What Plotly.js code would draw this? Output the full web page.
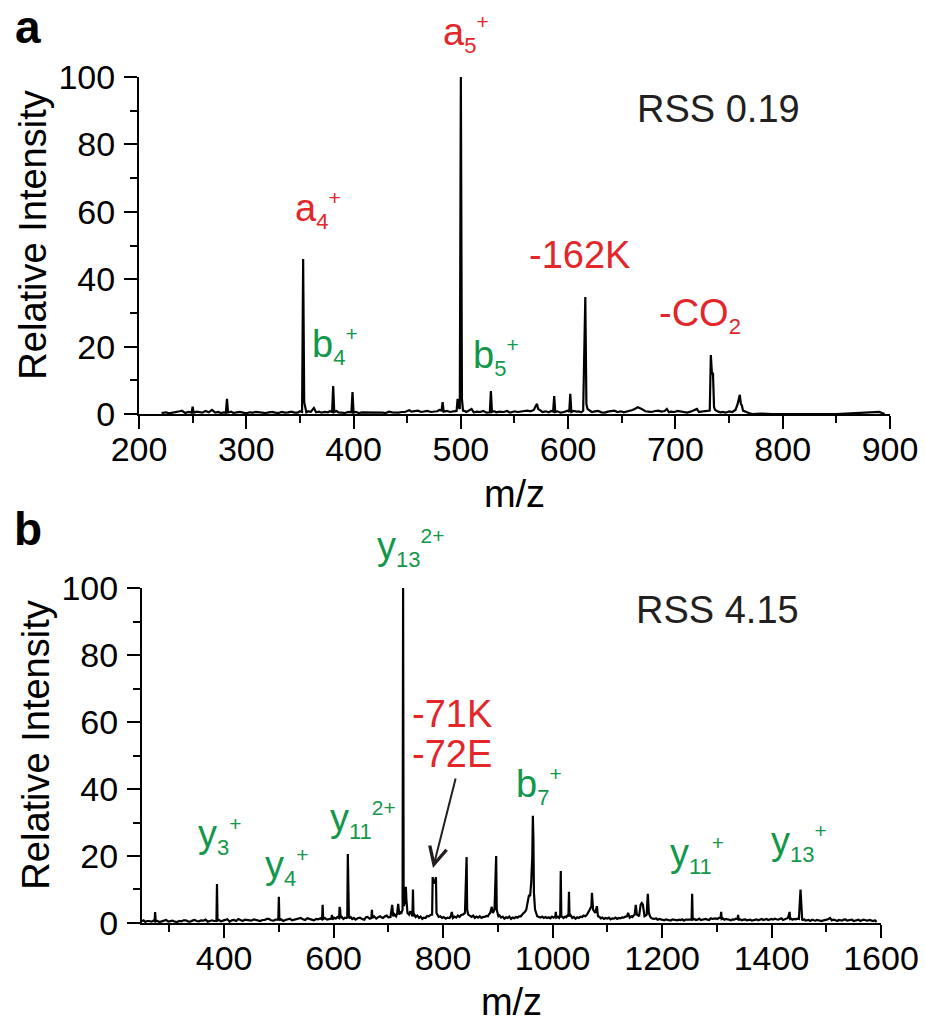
<!DOCTYPE html>
<html><head><meta charset="utf-8">
<script src="https://cdn.plot.ly/plotly-3.0.1.min.js"></script>
<style>html,body{margin:0;padding:0;background:#fff}</style>
</head><body>
<div id="chart" style="width:925px;height:1023px"></div>
<script>
// ---- Panel a spectrum (m/z, relative intensity) ----
const mzA = [221,225,228,232,235,238,240,243,246,249,250,251,254,256,259,262,265,268,271,274,276,279,281,282,283,286,288,291,294,297,300,303,306,309,312,315,318,321,324,327,330,333,336,339,342,345,348,350,352,353,354,355,356,358,360,363,365,368,370,373,376,378,380,381,382,384,386,389,392,395,398,399,400,402,405,408,412,415,418,421,424,427,430,433,436,439,442,445,448,450,452,454,456,458,460,463,466,469,472,475,478,480,482,483,484,487,490,493,496,497,498,499,500,501,502,504,505,508,510,512,515,518,521,524,527,528,529,531,533,536,540,543,546,548,550,553,556,559,562,565,568,570,571,572,574,576,579,582,584,586,587,588,590,593,596,598,600,601,602,603,605,608,610,612,614,616,617,618,620,622,625,628,631,634,637,640,643,646,649,652,655,658,660,662,665,668,670,672,675,678,681,684,687,690,692,693,694,696,699,702,705,708,711,714,716,718,720,721,722,724,727,730,732,733,734,735,736,737,738,740,742,744,747,750,753,756,758,760,761,762,763,765,767,770,772,780,790,800,850,890,893,895,898];
const intA = [0.3,0.5,0.2,0.4,0.5,0.8,1.0,0.3,0.6,0.4,2.2,0.4,0.7,0.6,0.4,0.9,0.5,1.2,0.4,0.6,0.3,0.5,0.4,4.5,0.5,0.7,0.3,0.5,0.6,0.4,0.2,0.5,0.4,0.6,0.5,0.3,0.3,0.5,0.6,0.4,0.3,0.6,0.4,0.5,0.7,0.4,0.4,0.8,0.6,46,3.5,2,0.5,0.8,0.6,1.8,0.5,0.7,0.4,0.6,0.5,0.8,0.6,8.3,0.6,0.9,0.5,0.4,0.3,0.6,0.5,6.5,0.4,0.6,0.3,0.5,0.5,0.4,0.4,0.6,0.6,0.4,0.3,0.7,0.5,0.4,0.4,0.6,0.6,0.9,1.1,0.7,0.8,1.1,1.0,0.6,0.7,0.9,0.6,0.8,0.8,1.2,1.0,3.5,0.7,0.9,0.6,0.8,0.9,4.5,2,1.5,100,4.5,1,0.8,0.6,1.1,1.5,0.5,0.7,0.6,0.9,0.4,0.5,6.8,0.6,0.8,0.5,0.7,0.6,0.9,0.4,0.6,0.8,0.6,0.7,1.0,1,0.8,1.2,2.5,3,1.5,0.9,0.6,0.8,0.5,0.9,0.7,5.3,0.6,0.8,0.4,0.6,0.8,1.0,0.6,6,0.6,0.9,0.7,0.8,0.5,0.9,34.7,3,1.5,0.9,0.6,0.8,0.9,0.5,0.4,0.7,0.8,1.0,0.6,0.8,0.5,0.7,0.9,1.2,1.5,2,1.6,1.2,0.8,0.7,0.6,0.9,1.0,0.7,0.9,1.5,0.8,0.5,0.7,0.6,0.9,0.8,0.6,0.4,0.7,0.9,1.2,1.5,1.0,0.6,0.7,0.8,1.0,1,17.5,12,12,2,1.2,1,0.7,0.5,0.6,0.4,0.8,0.6,1.2,3,5.7,3,2.5,1,0.7,0.5,0.1,0,0.1,0,0,0,0.6,0.2,0];

// ---- Panel b spectrum ----
const mzB = [250,253,256,259,262,265,268,271,273,274,275,278,282,286,290,294,298,302,306,310,314,318,322,326,330,334,338,342,346,350,354,358,362,366,370,374,378,381,384,386,387,388,391,394,398,402,406,410,414,418,422,426,430,434,438,442,446,450,454,458,462,466,470,474,478,482,486,490,494,498,499,500,501,504,508,512,516,520,524,528,532,536,540,544,548,552,556,560,564,568,572,576,579,580,581,584,588,592,596,597,598,601,604,607,610,611,612,613,615,618,621,624,625,626,627,628,631,634,637,640,644,648,652,656,659,662,666,669,670,671,674,678,682,685,688,690,694,697,700,704,707,709,711,714,716,718,720,722,724,726,727,728,730,732,733,735,738,740,742,744,745,746,748,750,753,756,759,762,765,768,771,774,777,780,781,783,785,787,788,790,792,795,798,801,805,808,812,814,816,818,821,824,827,830,833,836,838,840,843,844,846,849,852,855,858,861,864,867,870,873,876,879,882,884,886,889,891,894,897,898,901,903,906,909,912,915,918,921,924,927,930,933,936,939,942,945,948,950,952,955,957,959,961,963,964,965,966,968,970,972,975,978,981,984,987,990,993,996,999,1002,1005,1006,1007,1010,1012,1014,1015,1016,1018,1020,1023,1025,1027,1029,1030,1031,1033,1036,1039,1042,1045,1048,1051,1054,1057,1060,1063,1065,1068,1071,1072,1074,1076,1078,1081,1083,1086,1088,1091,1094,1097,1100,1103,1106,1109,1112,1115,1118,1121,1124,1127,1130,1133,1136,1138,1141,1144,1146,1148,1150,1152,1154,1156,1158,1161,1163,1165,1168,1170,1172,1174,1176,1178,1180,1183,1186,1189,1192,1195,1198,1201,1204,1207,1210,1213,1216,1219,1222,1225,1228,1231,1234,1237,1240,1243,1246,1249,1252,1254,1255,1256,1259,1262,1265,1268,1271,1274,1277,1280,1283,1286,1289,1292,1295,1298,1301,1304,1307,1308,1309,1311,1314,1317,1320,1323,1326,1329,1332,1335,1338,1339,1340,1343,1346,1349,1352,1355,1358,1361,1364,1367,1370,1373,1376,1379,1382,1385,1388,1391,1394,1397,1400,1403,1406,1409,1412,1415,1418,1421,1424,1427,1430,1433,1434,1436,1438,1441,1444,1447,1450,1453,1455,1456,1457,1460,1462,1465,1468,1471,1474,1477,1480,1483,1486,1489,1492,1495,1498,1501,1504,1507,1510,1513,1516,1518,1520,1523,1526,1529,1532,1535,1538,1541,1544,1547,1550,1553,1556,1559,1562,1565,1568,1571,1574,1577,1580,1583,1586,1589,1592,1595,1598,1600];
const intB = [0.5,0.8,0.3,0.6,0.6,0.4,0.4,0.7,0.5,3.3,0.5,0.6,0.3,0.5,0.6,0.9,0.4,0.6,0.7,0.4,0.3,0.6,0.5,0.8,0.8,0.5,0.4,0.7,0.9,0.6,0.5,0.8,0.7,1.0,0.4,0.6,0.8,0.6,0.5,0.6,11.6,0.7,0.9,0.5,0.7,0.8,1.1,0.4,0.8,0.9,0.6,1.2,0.9,0.6,1.0,0.9,0.7,0.7,1.1,1.0,0.8,0.6,0.9,0.9,1.2,1.2,0.8,0.7,1.0,1.0,1.0,7.8,0.8,1.1,0.6,0.9,1.1,1.3,0.8,1.0,1.0,1.2,1.5,1.1,0.9,1.4,1.3,1.0,0.8,1.2,1.1,1.4,1,5.4,1.2,1.5,1,1.2,1.3,2.4,1,1.6,1.3,1.8,1.5,4.8,4,1.5,1.8,1.2,1.6,1.5,1.4,20.6,2,1.5,1.8,1.2,1.5,1.0,1.4,1.6,1.2,1.0,1.7,1.8,1.3,1.5,3.9,1.5,2.0,1.3,1.8,2,1.6,1.5,2.0,2.2,1.7,1.8,5.4,2,2.6,2,2.8,5.7,2.5,3.2,3,4,100,5,6,10.8,7,3,2.5,3.5,3,2,10,2,2.4,1.8,2.2,1.5,1.9,1.2,1.6,1.5,2.1,2,2.4,2.5,13.7,12,12,13.7,3,2.2,1.8,2.0,1.5,1.8,1.3,1.6,1.5,2.0,3.3,1.5,1.9,1.6,2.2,1.8,2.4,2.5,2.8,3,19.7,4,2.5,2.0,1.8,2.2,1.5,1.9,1.6,2.0,1.5,1.8,1.8,2.1,2,2.6,3,4.8,3,4,20,4,2,2.3,1.6,1.9,1.3,1.7,1.5,1.9,1.2,1.6,1.4,1.8,1.6,2.0,2,2.6,3,3.4,4,7,8.4,8,12,20,32,25,9,4,3,2,1.8,1.6,1.9,1.5,1.8,1.5,1.7,1.4,1.9,1.6,2,3.3,1.6,1.9,1.5,2,15.5,2,1.8,1.5,1.9,1.7,2.2,2,9.3,2,2.3,1.5,1.8,1.3,1.7,1.5,1.9,1.8,2.2,2,2.5,3,4,5,9,4,3.5,3,5,2,1.8,1.4,1.6,1.2,1.5,1.3,1.6,1.1,1.4,1.3,1.6,1.2,1.5,1.4,1.7,1.6,1.9,2,3,1.6,2.0,1.8,2.2,2.5,5.4,2.5,2.3,2,5.5,6,5.5,2,2.2,2.5,8.7,3,2,1.5,1.3,1.2,1.4,1.0,1.2,1.1,0.9,0.8,1.1,0.9,0.8,0.7,1.1,1.0,0.7,0.8,1.0,0.9,1.1,0.7,1.0,1.0,0.8,0.8,1,8.7,1,1.2,0.9,1.0,1.3,0.9,1.0,1.3,1.2,1.0,0.9,1.4,1.2,1.3,1.4,1.2,1.5,1.5,3.3,1.2,1.4,1.0,1.2,1.1,0.9,0.8,1.1,1.0,1.3,1.2,2.4,1,1.1,0.8,1.0,1.1,0.8,0.9,1.0,0.7,0.9,1.0,1.1,0.8,1.0,1.2,0.9,1.0,1.2,0.9,1.1,1.2,1.0,1.3,1.1,1.0,1.2,1.4,0.9,1.1,1.2,1.5,3.3,1.2,1.3,1,1.2,1.1,1.3,1.2,10,1.2,1.0,0.9,1.1,0.7,0.8,0.9,0.6,1.0,0.8,0.7,0.9,0.8,0.9,0.6,0.8,0.8,1.0,1.2,1.5,0.8,1.0,0.9,0.7,0.6,0.9,0.8,0.7,1.0,1.1,0.7,0.8,0.9,1.0,0.6,0.8,0.8,1.0,0.6,0.8,1.0,0.9,0.7,0.8,0.9,0.7,0.6,0.8,0.3];

// ---- Axis ticks ----
const xTicksA = [200,300,400,500,600,700,800,900];
const xTicksB = [400,600,800,1000,1200,1400,1600];
const yTicks = [0,20,40,60,80,100];

const FONT = 'Liberation Sans, Arial, Helvetica, sans-serif';
const RED = '#e2262a';
const GREEN = '#13974b';
const DARK = '#231f20';

function xAxis(domain, anchor, range, ticks, minorDtick, minorTick0) {
  return {
    domain: domain, anchor: anchor, range: range,
    tickmode: 'array', tickvals: ticks, ticktext: ticks.map(String),
    ticks: 'outside', ticklen: 13, tickwidth: 2, tickcolor: '#000',
    ticklabelstandoff: -9,
    showline: true, linecolor: '#000', linewidth: 2,
    showgrid: false, zeroline: false,
    minor: {ticks: 'outside', ticklen: 7, tickwidth: 2, tickcolor: '#000', dtick: minorDtick, tick0: minorTick0, showgrid: false},
    tickfont: {family: FONT, size: 34, color: '#000'},
    title: {text: 'm/z', font: {family: FONT, size: 38, color: '#000'}, standoff: 14}
  };
}
function yAxis(domain, anchor) {
  return {
    domain: domain, anchor: anchor, range: [0, 100],
    tickmode: 'array', tickvals: yTicks, ticktext: yTicks.map(String),
    ticks: 'outside', ticklen: 13, tickwidth: 2, tickcolor: '#000',
    ticklabelstandoff: 2,
    showline: true, linecolor: '#000', linewidth: 2,
    showgrid: false, zeroline: false,
    minor: {ticks: 'outside', ticklen: 7, tickwidth: 2, tickcolor: '#000', dtick: 10, tick0: 0, showgrid: false},
    tickfont: {family: FONT, size: 34, color: '#000'},
    title: {text: '&nbsp;&nbsp;Relative Intensity', font: {family: FONT, size: 38, color: '#000'}, standoff: 0}
  };
}

const traces = [
  {x: mzA, y: intA, xaxis: 'x', yaxis: 'y', type: 'scatter', mode: 'lines',
   line: {color: '#000', width: 2.2}, hoverinfo: 'skip', showlegend: false},
  {x: mzB, y: intB, xaxis: 'x2', yaxis: 'y2', type: 'scatter', mode: 'lines',
   line: {color: '#000', width: 2.2}, hoverinfo: 'skip', showlegend: false}
];

const sub = t => '<sub><span style="font-size:22px">' + t + '</span></sub>';
const sup = t => '<sup><span style="font-size:21px">' + t + '</span></sup>';

function lab(text, x, y, color, xr, yr, yshift) {
  return {text: text, x: x, y: y, xref: xr, yref: yr, xanchor: 'left', yanchor: 'bottom',
    yshift: yshift || 0, showarrow: false, font: {family: FONT, size: 38, color: color}};
}

const annotations = [
  {text: '<b>a</b>', x: -0.151, y: 0.984, xref: 'paper', yref: 'paper', xanchor: 'left', yanchor: 'bottom', showarrow: false, font: {family: FONT, size: 46, color: '#000'}},
  {text: '<b>b</b>', x: -0.152, y: 0.4399, xref: 'paper', yref: 'paper', xanchor: 'left', yanchor: 'bottom', showarrow: false, font: {family: FONT, size: 46, color: '#000'}},
  lab('a' + sub('5') + sup('+'), 481.5, 99.5, RED, 'x', 'y', 18.5),
  lab('a' + sub('4') + sup('+'), 343.5, 52.8, RED, 'x', 'y'),
  lab('b' + sub('4') + sup('+'), 359.4, 12.5, GREEN, 'x', 'y'),
  lab('b' + sub('5') + sup('+'), 509.4, 9.2, GREEN, 'x', 'y'),
  lab('-162K', 561.6, 40.4, RED, 'x', 'y'),
  lab('-CO' + sub('2'), 682.8, 21.7, RED, 'x', 'y'),
  lab('RSS 0.19', 662.3, 83.7, DARK, 'x', 'y'),
  lab('y' + sub('13') + sup('2+'), 675.6, 99.5, GREEN, 'x2', 'y2', 15.7),
  lab('y' + sub('3') + sup('+'), 348.6, 18.2, GREEN, 'x2', 'y2'),
  lab('y' + sub('4') + sup('+'), 471, 9.0, GREEN, 'x2', 'y2'),
  lab('y' + sub('11') + sup('2+'), 589.8, 23, GREEN, 'x2', 'y2'),
  lab('-71K', 739.6, 55.5, RED, 'x2', 'y2'),
  lab('-72E', 739.6, 43.6, RED, 'x2', 'y2'),
  lab('b' + sub('7') + sup('+'), 929.6, 33.1, GREEN, 'x2', 'y2'),
  lab('y' + sub('11') + sup('+'), 1210.9, 12.5, GREEN, 'x2', 'y2'),
  lab('y' + sub('13') + sup('+'), 1395.4, 16.1, GREEN, 'x2', 'y2'),
  lab('RSS 4.15', 1148.8, 86.6, DARK, 'x2', 'y2'),
  {x: 781.6, y: 16.4, xref: 'x2', yref: 'y2', text: '', showarrow: true,
   ax: 23, ay: -91, axref: 'pixel', ayref: 'pixel',
   arrowhead: 5, arrowsize: 1.7, arrowwidth: 2, arrowcolor: '#231f20', standoff: 0}
];

const layout = {
  width: 925, height: 1023,
  margin: {l: 130, r: 20, t: 40, b: 60},
  paper_bgcolor: '#fff', plot_bgcolor: '#fff',
  font: {family: FONT, color: '#000'},
  showlegend: false,
  xaxis: xAxis([0.01161, 0.98065], 'y', [200, 900], xTicksA, 50, 200),
  yaxis: yAxis([0.5948, 0.9599], 'x'),
  xaxis2: xAxis([0.01548, 0.96903], 'y2', [250, 1600], xTicksB, 100, 0),
  yaxis2: yAxis([0.04334, 0.40628], 'x2'),
  annotations: annotations
};

Plotly.newPlot('chart', traces, layout, {displayModeBar: false, staticPlot: true});
</script>
</body></html>
